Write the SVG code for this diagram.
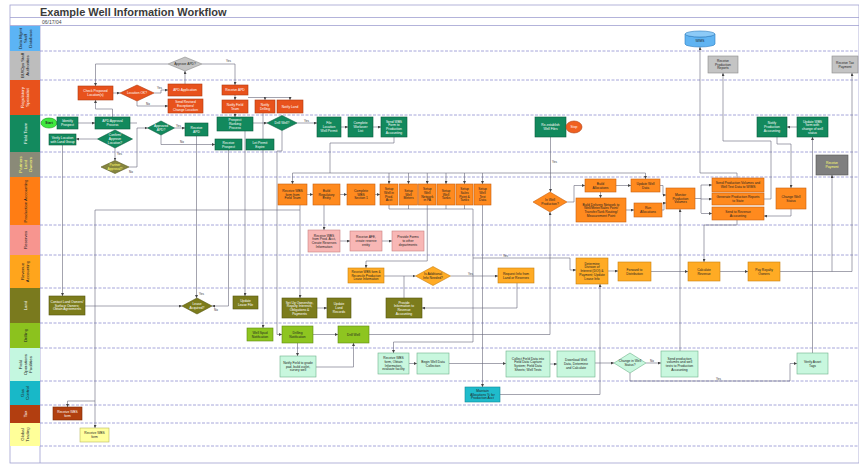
<svg xmlns="http://www.w3.org/2000/svg" width="859" height="464" viewBox="0 0 859 464">
<style>
.t{font-family:"Liberation Sans",Arial,sans-serif;font-size:3.3px;text-anchor:middle}
.lt{font-family:"Liberation Sans",Arial,sans-serif;font-size:4.3px;text-anchor:middle}
.lb{font-family:"Liberation Sans",Arial,sans-serif;font-size:3px;fill:#333}
.w{fill:#fff}.d{fill:#222}.y{fill:#ffff70}
.c{fill:none;stroke:#676778;stroke-width:0.6}
.ca{fill:none;stroke:#676778;stroke-width:0.6;marker-end:url(#a)}
.sep{stroke:#8f8fd0;stroke-width:0.8;stroke-dasharray:3 1.5}
.reg{fill:#e8521c;stroke:#b03a10;stroke-width:0.6}
.gry{fill:#c4c4c4;stroke:#8a8a8a;stroke-width:0.6}
.fld{fill:#12895d;stroke:#0a5c3e;stroke-width:0.6}
.prd{fill:#ff8a1e;stroke:#c86010;stroke-width:0.6}
.pnk{fill:#f8b7b5;stroke:#c88080;stroke-width:0.6}
.rev{fill:#ffab24;stroke:#c88010;stroke-width:0.6}
.lnd{fill:#7c7c1c;stroke:#55550e;stroke-width:0.6}
.drl{fill:#8ec520;stroke:#5f8a10;stroke-width:0.6}
.ops{fill:#c8f7de;stroke:#6fb28a;stroke-width:0.6}
.gas{fill:#1fbccc;stroke:#118896;stroke-width:0.6}
.tax{fill:#b1400f;stroke:#7a2a08;stroke-width:0.6}
.glb{fill:#ffff9e;stroke:#b8b860;stroke-width:0.6}
.prt{fill:#7f7f7f;stroke:#555;stroke-width:0.6}
.pol{fill:#86863e;stroke:#5a5a20;stroke-width:0.6}
</style>
<defs>
<marker id="a" viewBox="0 0 6 6" refX="6" refY="3" markerWidth="3" markerHeight="3" orient="auto" markerUnits="userSpaceOnUse"><path d="M0,0 L6,3 L0,6 z" fill="#444"/></marker>
</defs>
<rect x="0" y="0" width="859" height="464" fill="#fff"/>
<g id="frame">
<rect x="10" y="5" width="849" height="458" fill="none" stroke="#a0a0d0" stroke-width="0.8"/>
<line x1="10" y1="17.5" x2="859" y2="17.5" stroke="#a0a0d0" stroke-width="0.8"/>
<line x1="10" y1="25.5" x2="859" y2="25.5" stroke="#a0a0d0" stroke-width="0.8"/>
<text x="40" y="15.5" font-family="Liberation Sans, Arial, sans-serif" font-size="11" font-weight="bold" fill="#3a3a3a">Example Well Information Workflow</text>
<text x="42" y="23.5" font-family="Liberation Sans, Arial, sans-serif" font-size="5" fill="#444">06/17/04</text>
<line x1="40" y1="26" x2="40" y2="463" stroke="#a0a0d0" stroke-width="0.8"/>
</g>
<g id="lanes">
<rect x="10" y="26" width="30" height="25" fill="#5cb4f5"/>
<rect x="10" y="51" width="30" height="29" fill="#bdbdbd"/>
<rect x="10" y="80" width="30" height="35" fill="#e8521c"/>
<rect x="10" y="115" width="30" height="37" fill="#138a5e"/>
<rect x="10" y="152" width="30" height="25" fill="#8a8a78"/>
<rect x="10" y="177" width="30" height="48" fill="#ff7d14"/>
<rect x="10" y="225" width="30" height="30" fill="#f7958f"/>
<rect x="10" y="255" width="30" height="33" fill="#ffa51c"/>
<rect x="10" y="288" width="30" height="35" fill="#7a7a1e"/>
<rect x="10" y="323" width="30" height="25" fill="#8cc21e"/>
<rect x="10" y="348" width="30" height="33" fill="#c4f7e0"/>
<rect x="10" y="381" width="30" height="24" fill="#18b8c8"/>
<rect x="10" y="405" width="30" height="18" fill="#b23e10"/>
<rect x="10" y="423" width="30" height="23" fill="#ffff99"/>
<text class="lt d" transform="translate(25,38.5) rotate(-90)"><tspan x="0" y="-3.4">Data Mgmt</tspan><tspan x="0" y="1.6">Staff</tspan><tspan x="0" y="6.6">Database</tspan></text>
<text class="lt d" transform="translate(25,65.5) rotate(-90)"><tspan x="0" y="-0.9">BU/Ops Staff</tspan><tspan x="0" y="4.1">Authorities</tspan></text>
<text class="lt w" transform="translate(25,97.5) rotate(-90)"><tspan x="0" y="-0.9">Regulatory</tspan><tspan x="0" y="4.1">Specialist</tspan></text>
<text class="lt w" transform="translate(25,133.5) rotate(-90)"><tspan x="0" y="1.6">Field Team</tspan></text>
<text class="lt y" transform="translate(25,164.5) rotate(-90)"><tspan x="0" y="-3.4">Partners</tspan><tspan x="0" y="1.6">Land</tspan><tspan x="0" y="6.6">Owners</tspan></text>
<text class="lt d" transform="translate(25,201) rotate(-90)"><tspan x="0" y="1.6">Production Accounting</tspan></text>
<text class="lt d" transform="translate(25,240) rotate(-90)"><tspan x="0" y="1.6">Reserves</tspan></text>
<text class="lt d" transform="translate(25,271.5) rotate(-90)"><tspan x="0" y="-0.9">Revenue</tspan><tspan x="0" y="4.1">Accounting</tspan></text>
<text class="lt w" transform="translate(25,305.5) rotate(-90)"><tspan x="0" y="1.6">Land</tspan></text>
<text class="lt d" transform="translate(25,335.5) rotate(-90)"><tspan x="0" y="1.6">Drilling</tspan></text>
<text class="lt d" transform="translate(25,364.5) rotate(-90)"><tspan x="0" y="-3.4">Field</tspan><tspan x="0" y="1.6">Operations</tspan><tspan x="0" y="6.6">Facilities</tspan></text>
<text class="lt d" transform="translate(25,393) rotate(-90)"><tspan x="0" y="-0.9">Gas</tspan><tspan x="0" y="4.1">Control</tspan></text>
<text class="lt w" transform="translate(25,414) rotate(-90)"><tspan x="0" y="1.6">Tax</tspan></text>
<text class="lt d" transform="translate(25,434.5) rotate(-90)"><tspan x="0" y="-0.9">Global</tspan><tspan x="0" y="4.1">Trading</tspan></text>
<line class="sep" x1="40" y1="51" x2="859" y2="51"/>
<line class="sep" x1="40" y1="80" x2="859" y2="80"/>
<line class="sep" x1="40" y1="115" x2="859" y2="115"/>
<line class="sep" x1="40" y1="152" x2="859" y2="152"/>
<line class="sep" x1="40" y1="177" x2="859" y2="177"/>
<line class="sep" x1="40" y1="225" x2="859" y2="225"/>
<line class="sep" x1="40" y1="255" x2="859" y2="255"/>
<line class="sep" x1="40" y1="288" x2="859" y2="288"/>
<line class="sep" x1="40" y1="323" x2="859" y2="323"/>
<line class="sep" x1="40" y1="348" x2="859" y2="348"/>
<line class="sep" x1="40" y1="381" x2="859" y2="381"/>
<line class="sep" x1="40" y1="405" x2="859" y2="405"/>
<line class="sep" x1="40" y1="423" x2="859" y2="423"/>
<line class="sep" x1="40" y1="446" x2="859" y2="446"/>
</g>
<g id="connectors">
<path class="ca" d="M168,64 H95.5 V86"/>
<path class="ca" d="M202,64 H235 V85"/>
<path class="ca" d="M185,84 V71"/>
<path class="ca" d="M113,93 H120"/>
<path class="ca" d="M154,93 H161 V90 H168"/>
<path class="ca" d="M137,101 V106 H168"/>
<path class="ca" d="M112.5,117 V109 H95.5 V100"/>
<path class="ca" d="M235,95 V100"/>
<path class="ca" d="M248,97.5 H265 V100"/>
<path class="ca" d="M265,97.5 H290 V100"/>
<path class="ca" d="M57,123 H57.5"/>
<path class="ca" d="M78,123 H95"/>
<path class="ca" d="M97.5,139 H76"/>
<path class="ca" d="M62.5,145 V296"/>
<path class="ca" d="M115,148 V160.5"/>
<path class="ca" d="M129,167 H137 V128 H147.5"/>
<path class="c" d="M130,123 H137"/>
<path class="ca" d="M174.5,128 H185"/>
<path class="ca" d="M161,135 V144.5 H215"/>
<path class="ca" d="M196.5,136 V298"/>
<path class="ca" d="M85,306 H182"/>
<path class="ca" d="M228.5,150 V306 H212"/>
<path class="ca" d="M253,123 H267"/>
<path class="ca" d="M235,113 V117"/>
<path class="ca" d="M297,123 H317"/>
<path class="ca" d="M245,131 V296"/>
<path class="ca" d="M263,113 V328"/>
<path class="ca" d="M282,130.5 V151 H277 V334.5 H282"/>
<path class="ca" d="M341,127 H348"/>
<path class="ca" d="M373,127 H381"/>
<path class="c" d="M394,137 V143 H330 V173"/>
<path class="c" d="M292.5,173 H645.5"/>
<path class="ca" d="M292.5,173 V184"/>
<path class="ca" d="M389,173 V184"/>
<path class="ca" d="M408.5,173 V184"/>
<path class="ca" d="M427.25,173 V184"/>
<path class="ca" d="M446,173 V184"/>
<path class="ca" d="M464.5,173 V184"/>
<path class="ca" d="M482.5,173 V184"/>
<path class="ca" d="M645.5,173 V179"/>
<path class="ca" d="M307,194.5 H313"/>
<path class="ca" d="M340,194.5 H347"/>
<path class="ca" d="M375,194.5 H380"/>
<path class="c" d="M389,205 V209 H473 M408.5,205 V209 M427.25,205 V209 M446,205 V209 M464.5,205 V209"/>
<path class="ca" d="M427.25,209 V261 H366 V268"/>
<path class="ca" d="M324,205 V230"/>
<path class="ca" d="M340,241 H350"/>
<path class="ca" d="M382,241 H392"/>
<path class="ca" d="M300,205 V298"/>
<path class="ca" d="M300,210 H95 V428"/>
<path class="ca" d="M95,401 H67.5 V407"/>
<path class="ca" d="M482.5,205 V387"/>
<path class="ca" d="M473,209 V342 H393.5 V353"/>
<path class="ca" d="M473,258 H570 V270 H576"/>
<path class="ca" d="M384,276 H415.5"/>
<path class="ca" d="M450.5,276 H498"/>
<path class="c" d="M404,298 V276"/>
<path class="ca" d="M517,283 V308 H422"/>
<path class="ca" d="M317,308 H327"/>
<path class="ca" d="M313,334.5 H338"/>
<path class="ca" d="M297.5,343 V356"/>
<path class="ca" d="M316,367 H353.5 V343"/>
<path class="ca" d="M369,334.5 H550 V212"/>
<path class="ca" d="M550.5,137 V192"/>
<path class="ca" d="M409,363.5 H417"/>
<path class="ca" d="M449,363.5 H506"/>
<path class="ca" d="M550,364 H557"/>
<path class="ca" d="M595,363 H614"/>
<path class="ca" d="M646,363 H661"/>
<path class="ca" d="M630,373 V381 H790 V363.5 H797"/>
<path class="ca" d="M500,394.5 H600 V284"/>
<path class="ca" d="M680,351 V209"/>
<path class="ca" d="M812.5,353 V137"/>
<path class="ca" d="M567,202 H574 V185.5 H585"/>
<path class="ca" d="M616,185.5 H631"/>
<path class="ca" d="M600.5,192 V198"/>
<path class="ca" d="M626,210 H634"/>
<path class="ca" d="M660,185.5 H663 V195 H666"/>
<path class="ca" d="M662,210 H664 V203 H666"/>
<path class="c" d="M695,198.5 H701 M701,185 V213"/>
<path class="ca" d="M701,185 H712"/>
<path class="ca" d="M701,199 H712"/>
<path class="ca" d="M701,213.5 H712"/>
<path class="ca" d="M737,178 V173 H700 V47"/>
<path class="ca" d="M764,199 H771 V141 H723 V73"/>
<path class="ca" d="M777,137 V144 H791 V188"/>
<path class="ca" d="M791,209 V216 H764"/>
<path class="ca" d="M797,127 H787"/>
<path class="ca" d="M737,220 V225 H704 V262"/>
<path class="ca" d="M608,271 H618"/>
<path class="ca" d="M651,271.5 H688"/>
<path class="ca" d="M720,271.5 H748"/>
<path class="ca" d="M780,271.5 H852 V73"/>
<path class="ca" d="M832,271.5 V175"/>
<text class="lb" x="226" y="62">Yes</text>
<text class="lb" x="157" y="88.5">Yes</text>
<text class="lb" x="146" y="105">No</text>
<text class="lb" x="117" y="155">Yes</text>
<text class="lb" x="129" y="173">No</text>
<text class="lb" x="176" y="126.5">Yes</text>
<text class="lb" x="180" y="143">No</text>
<text class="lb" x="199" y="295">Yes</text>
<text class="lb" x="214" y="311">No</text>
<text class="lb" x="304" y="121.5">Yes</text>
<text class="lb" x="552" y="163">Yes</text>
<text class="lb" x="468" y="274.5">Yes</text>
<text class="lb" x="503" y="256.5">Yes</text>
<text class="lb" x="650" y="361.5">No</text>
<text class="lb" x="716" y="380">Yes</text>
</g>
<g id="n-db"><path d="M685,34 A15,3 0 0,0 715,34 V44 A15,3 0 0,1 685,44 Z" fill="#60b4f2" stroke="#2c7cc0" stroke-width="0.6"/><ellipse cx="700" cy="34" rx="15" ry="3" fill="#8ccaf7" stroke="#2c7cc0" stroke-width="0.6"/><text class="t d" x="700" y="42">WIMS</text></g>
<g id="n-recprodrep"><rect class="gry" x="708" y="56" width="30" height="17"/><text class="t d"><tspan x="723" y="61.95">Receive</tspan><tspan x="723" y="65.65">Production</tspan><tspan x="723" y="69.35">Reports</tspan></text></g>
<g id="n-rectax"><rect class="gry" x="832" y="56" width="26" height="17"/><text class="t d"><tspan x="845" y="63.8">Receive Tax</tspan><tspan x="845" y="67.5">Payment</tspan></text></g>
<g id="n-approveapd"><polygon class="gry" points="168,64 185,57 202,64 185,71"/><text class="t d" x="185" y="65.15">Approve APD?</text></g>
<g id="n-check"><rect class="reg" x="78" y="86" width="35" height="14"/><text class="t w"><tspan x="95.5" y="92.3">Check Proposed</tspan><tspan x="95.5" y="96">Location(s)</tspan></text></g>
<g id="n-locok"><polygon class="reg" points="120,93 137,85 154,93 137,101"/><text class="t w" x="137" y="94.15">Location OK?</text></g>
<g id="n-apdapp"><rect class="reg" x="168" y="84" width="34" height="12"/><text class="t w" x="185" y="91.15">APD Application</text></g>
<g id="n-sendrev"><rect class="reg" x="168" y="99" width="35" height="14"/><text class="t w"><tspan x="185.5" y="103.45">Send Revised</tspan><tspan x="185.5" y="107.15">Exceptions/</tspan><tspan x="185.5" y="110.85">Change Location</tspan></text></g>
<g id="n-recapd"><rect class="reg" x="222" y="85" width="26" height="10"/><text class="t w" x="235" y="91.15">Receive APD</text></g>
<g id="n-notfield"><rect class="reg" x="222" y="100" width="26" height="13"/><text class="t w"><tspan x="235" y="105.8">Notify Field</tspan><tspan x="235" y="109.5">Team</tspan></text></g>
<g id="n-notdrill"><rect class="reg" x="255" y="100" width="20" height="13"/><text class="t w"><tspan x="265" y="105.8">Notify</tspan><tspan x="265" y="109.5">Drilling</tspan></text></g>
<g id="n-notland"><rect class="reg" x="277" y="100" width="26" height="13"/><text class="t w" x="290" y="107.65">Notify Land</text></g>
<g id="n-start"><ellipse cx="49" cy="123" rx="8" ry="5" fill="#3ee83e" stroke="#1a9a1a" stroke-width="0.6"/><text class="t d" x="49" y="124.3" font-weight="bold">Start</text></g>
<g id="n-identify"><rect class="fld" x="57" y="117" width="21" height="12"/><text class="t w"><tspan x="67.5" y="122.3">Identify</tspan><tspan x="67.5" y="126">Prospect</tspan></text></g>
<g id="n-verify"><rect class="fld" x="49" y="134" width="27" height="11"/><text class="t w"><tspan x="62.5" y="138.8">Verify Location</tspan><tspan x="62.5" y="142.5">with Land Group</tspan></text></g>
<g id="n-apdproc"><rect class="fld" x="95" y="117" width="35" height="12"/><text class="t w"><tspan x="112.5" y="122.3">APD Approval</tspan><tspan x="112.5" y="126">Process</tspan></text></g>
<g id="n-confirm"><polygon class="fld" points="97.5,139 115,130 132.5,139 115,148"/><text class="t w"><tspan x="115" y="136.45">Confirm/</tspan><tspan x="115" y="140.15">Approve</tspan><tspan x="115" y="143.85">Location?</tspan></text></g>
<g id="n-approved"><polygon class="fld" points="147.5,128 161,121 174.5,128 161,135"/><text class="t w"><tspan x="161" y="127.3">Approved</tspan><tspan x="161" y="131">APD?</tspan></text></g>
<g id="n-recapd2"><rect class="fld" x="185" y="123" width="23" height="13"/><text class="t w"><tspan x="196.5" y="128.8">Receive</tspan><tspan x="196.5" y="132.5">APD</tspan></text></g>
<g id="n-recprosp"><rect class="fld" x="215" y="139" width="27" height="11"/><text class="t w"><tspan x="228.5" y="143.8">Receive</tspan><tspan x="228.5" y="147.5">Prospect</tspan></text></g>
<g id="n-ranking"><rect class="fld" x="217" y="117" width="36" height="14"/><text class="t w"><tspan x="235" y="121.45">Prospect</tspan><tspan x="235" y="125.15">Ranking</tspan><tspan x="235" y="128.85">Process</tspan></text></g>
<g id="n-letexpire"><rect class="fld" x="246" y="139" width="28" height="11"/><text class="t w"><tspan x="260" y="143.8">Let Permit</tspan><tspan x="260" y="147.5">Expire</tspan></text></g>
<g id="n-drillq"><polygon class="fld" points="267,123 282,115.5 297,123 282,130.5"/><text class="t w" x="282" y="124.15">Drill Well?</text></g>
<g id="n-fileloc"><rect class="fld" x="317" y="117" width="24" height="20"/><text class="t w"><tspan x="329" y="124.45">File</tspan><tspan x="329" y="128.15">Location</tspan><tspan x="329" y="131.85">Well Permit</tspan></text></g>
<g id="n-workover"><rect class="fld" x="348" y="117" width="25" height="20"/><text class="t w"><tspan x="360.5" y="124.45">Complete</tspan><tspan x="360.5" y="128.15">Workover</tspan><tspan x="360.5" y="131.85">List</tspan></text></g>
<g id="n-sendwbs"><rect class="fld" x="381" y="117" width="26" height="20"/><text class="t w"><tspan x="394" y="122.6">Send WBS</tspan><tspan x="394" y="126.3">Form to</tspan><tspan x="394" y="130">Production</tspan><tspan x="394" y="133.7">Accounting</tspan></text></g>
<g id="n-reest"><rect class="fld" x="535" y="117" width="31" height="20"/><text class="t w"><tspan x="550.5" y="126.3">Re-establish</tspan><tspan x="550.5" y="130">Well Files</tspan></text></g>
<g id="n-stop"><ellipse cx="574" cy="127" rx="8" ry="6" fill="#f06020" stroke="#b04010" stroke-width="0.6"/><text class="t w" x="574" y="128.15">Stop</text></g>
<g id="n-notpa"><rect class="fld" x="757" y="117" width="30" height="20"/><text class="t w"><tspan x="772" y="124.45">Notify</tspan><tspan x="772" y="128.15">Production</tspan><tspan x="772" y="131.85">Accounting</tspan></text></g>
<g id="n-updwbs"><rect class="fld" x="797" y="117" width="31" height="20"/><text class="t w"><tspan x="812.5" y="122.6">Update WBS</tspan><tspan x="812.5" y="126.3">form with</tspan><tspan x="812.5" y="130">change of well</tspan><tspan x="812.5" y="133.7">status</tspan></text></g>
<g id="n-partner"><polygon class="pol" points="101,167 115,160.5 129,167 115,173.5"/><text class="t y"><tspan x="115" y="166.3">Partner</tspan><tspan x="115" y="170">Approval?</tspan></text></g>
<g id="n-recpay"><rect class="prt" x="816" y="155" width="32" height="20"/><text class="t y"><tspan x="832" y="164.3">Receive</tspan><tspan x="832" y="168">Payment</tspan></text></g>
<g id="n-recwbs"><rect class="prd" x="278" y="184" width="29" height="21"/><text class="t d"><tspan x="292.5" y="191.95">Receive WBS</tspan><tspan x="292.5" y="195.65">form from</tspan><tspan x="292.5" y="199.35">Field Team</tspan></text></g>
<g id="n-buildreg"><rect class="prd" x="313" y="184" width="27" height="21"/><text class="t d"><tspan x="326.5" y="191.95">Build</tspan><tspan x="326.5" y="195.65">Regulatory</tspan><tspan x="326.5" y="199.35">Entity</tspan></text></g>
<g id="n-complete1"><rect class="prd" x="347" y="184" width="28" height="21"/><text class="t d"><tspan x="361" y="191.95">Complete</tspan><tspan x="361" y="195.65">WBS</tspan><tspan x="361" y="199.35">Section 1</tspan></text></g>
<g id="n-setup1"><rect class="prd" x="380" y="184" width="18" height="21"/><text class="t d"><tspan x="389" y="190.1">Setup</tspan><tspan x="389" y="193.8">Well in</tspan><tspan x="389" y="197.5">Prod.</tspan><tspan x="389" y="201.2">Acct</tspan></text></g>
<g id="n-setup2"><rect class="prd" x="399.5" y="184" width="18" height="21"/><text class="t d"><tspan x="408.5" y="191.95">Setup</tspan><tspan x="408.5" y="195.65">Well</tspan><tspan x="408.5" y="199.35">Meters</tspan></text></g>
<g id="n-setup3"><rect class="prd" x="418.5" y="184" width="17.5" height="21"/><text class="t d"><tspan x="427.25" y="190.1">Setup</tspan><tspan x="427.25" y="193.8">Well</tspan><tspan x="427.25" y="197.5">Network</tspan><tspan x="427.25" y="201.2">in PA</tspan></text></g>
<g id="n-setup4"><rect class="prd" x="437" y="184" width="18" height="21"/><text class="t d"><tspan x="446" y="191.95">Setup</tspan><tspan x="446" y="195.65">Well</tspan><tspan x="446" y="199.35">Tanks</tspan></text></g>
<g id="n-setup5"><rect class="prd" x="456" y="184" width="17" height="21"/><text class="t d"><tspan x="464.5" y="190.1">Setup</tspan><tspan x="464.5" y="193.8">Sales</tspan><tspan x="464.5" y="197.5">Point &amp;</tspan><tspan x="464.5" y="201.2">Tanks</tspan></text></g>
<g id="n-setup6"><rect class="prd" x="474" y="184" width="17" height="21"/><text class="t d"><tspan x="482.5" y="190.1">Setup</tspan><tspan x="482.5" y="193.8">Well</tspan><tspan x="482.5" y="197.5">Test</tspan><tspan x="482.5" y="201.2">Data</tspan></text></g>
<g id="n-inprod"><polygon class="prd" points="533,202 550,192 567,202 550,212"/><text class="t d"><tspan x="550" y="201.3">In Well</tspan><tspan x="550" y="205">Production?</tspan></text></g>
<g id="n-buildalloc"><rect class="prd" x="585" y="179" width="31" height="13"/><text class="t d"><tspan x="600.5" y="184.8">Build</tspan><tspan x="600.5" y="188.5">Allocations</tspan></text></g>
<g id="n-updwell"><rect class="prd" x="631" y="179" width="29" height="13"/><text class="t d"><tspan x="645.5" y="184.8">Update Well</tspan><tspan x="645.5" y="188.5">Data</tspan></text></g>
<g id="n-builddel"><rect class="prd" x="576" y="198" width="50" height="24"/><text class="t d"><tspan x="601" y="205.6">Build Delivery Network to</tspan><tspan x="601" y="209.3">Well/Meter/Sales Point/</tspan><tspan x="601" y="213">Transfer/Tank Routing/</tspan><tspan x="601" y="216.7">Measurement Point</tspan></text></g>
<g id="n-runalloc"><rect class="prd" x="634" y="203" width="28" height="14"/><text class="t d"><tspan x="648" y="209.3">Run</tspan><tspan x="648" y="213">Allocations</tspan></text></g>
<g id="n-monitor"><rect class="prd" x="666" y="188" width="29" height="21"/><text class="t d"><tspan x="680.5" y="195.95">Monitor</tspan><tspan x="680.5" y="199.65">Production</tspan><tspan x="680.5" y="203.35">Volumes</tspan></text></g>
<g id="n-sendvol"><rect class="prd" x="712" y="178" width="52" height="14"/><text class="t d"><tspan x="738" y="184.3">Send Production Volumes and</tspan><tspan x="738" y="188">Well Test Data to WIMS</tspan></text></g>
<g id="n-genrep"><rect class="prd" x="712" y="193" width="52" height="12"/><text class="t d"><tspan x="738" y="198.3">Generate Production Reports</tspan><tspan x="738" y="202">to State</tspan></text></g>
<g id="n-sendrev2"><rect class="prd" x="712" y="207" width="52" height="13"/><text class="t d"><tspan x="738" y="212.8">Send to Revenue</tspan><tspan x="738" y="216.5">Accounting</tspan></text></g>
<g id="n-chgstatus"><rect class="prd" x="776" y="188" width="30" height="21"/><text class="t d"><tspan x="791" y="197.8">Change Well</tspan><tspan x="791" y="201.5">Status</tspan></text></g>
<g id="n-res1"><rect class="pnk" x="308" y="230" width="32" height="22"/><text class="t d"><tspan x="324" y="236.6">Receive WBS</tspan><tspan x="324" y="240.3">from Prod. Acct,</tspan><tspan x="324" y="244">Create Reserves</tspan><tspan x="324" y="247.7">Information</tspan></text></g>
<g id="n-res2"><rect class="pnk" x="350" y="231" width="32" height="20"/><text class="t d"><tspan x="366" y="238.45">Receive AFE,</tspan><tspan x="366" y="242.15">create reserve</tspan><tspan x="366" y="245.85">entity</tspan></text></g>
<g id="n-res3"><rect class="pnk" x="392" y="231" width="32" height="20"/><text class="t d"><tspan x="408" y="238.45">Provide Forms</tspan><tspan x="408" y="242.15">to other</tspan><tspan x="408" y="245.85">departments</tspan></text></g>
<g id="n-rev1"><rect class="rev" x="348" y="268" width="36" height="15"/><text class="t d" style="font-size:3.1px"><tspan x="366" y="272.95">Receive WBS form &amp;</tspan><tspan x="366" y="276.65">Reconcile Production</tspan><tspan x="366" y="280.35">Lease Information</tspan></text></g>
<g id="n-addinfo"><polygon class="rev" points="415.5,276 433,266.5 450.5,276 433,285.5"/><text class="t d"><tspan x="433" y="275.3">Is Additional</tspan><tspan x="433" y="279">Info Needed?</tspan></text></g>
<g id="n-reqinfo"><rect class="rev" x="498" y="268" width="36" height="15"/><text class="t d"><tspan x="516" y="274.8">Request Info from</tspan><tspan x="516" y="278.5">Land or Reserves</tspan></text></g>
<g id="n-doi"><rect class="rev" x="576" y="258" width="32" height="26"/><text class="t d"><tspan x="592" y="264.75">Determine</tspan><tspan x="592" y="268.45">Division of</tspan><tspan x="592" y="272.15">Interest (DOI) &amp;</tspan><tspan x="592" y="275.85">Payment; Update</tspan><tspan x="592" y="279.55">Lease Info</tspan></text></g>
<g id="n-forward"><rect class="rev" x="618" y="262" width="33" height="19"/><text class="t d"><tspan x="634.5" y="270.8">Forward to</tspan><tspan x="634.5" y="274.5">Distribution</tspan></text></g>
<g id="n-calc"><rect class="rev" x="688" y="262" width="32" height="19"/><text class="t d"><tspan x="704" y="270.8">Calculate</tspan><tspan x="704" y="274.5">Revenue</tspan></text></g>
<g id="n-pay"><rect class="rev" x="748" y="262" width="32" height="19"/><text class="t d"><tspan x="764" y="270.8">Pay Royalty</tspan><tspan x="764" y="274.5">Owners</tspan></text></g>
<g id="n-contact"><rect class="lnd" x="49" y="296" width="36" height="19"/><text class="t w"><tspan x="67" y="302.95">Contact Land Owners/</tspan><tspan x="67" y="306.65">Surface Owners;</tspan><tspan x="67" y="310.35">Obtain Agreements</tspan></text></g>
<g id="n-lease"><polygon class="lnd" points="182,306 197,298 212,306 197,314"/><text class="t w"><tspan x="197" y="305.3">Lease</tspan><tspan x="197" y="309">Acquired?</tspan></text></g>
<g id="n-updlease"><rect class="lnd" x="233" y="296" width="25" height="13"/><text class="t w"><tspan x="245.5" y="301.8">Update</tspan><tspan x="245.5" y="305.5">Lease File</tspan></text></g>
<g id="n-setown"><rect class="lnd" x="282" y="298" width="35" height="20"/><text class="t w"><tspan x="299.5" y="303.6">Set Up Ownership,</tspan><tspan x="299.5" y="307.3">Royalty Interests,</tspan><tspan x="299.5" y="311">Obligations &amp;</tspan><tspan x="299.5" y="314.7">Payments</tspan></text></g>
<g id="n-updland"><rect class="lnd" x="327" y="298" width="24" height="20"/><text class="t w"><tspan x="339" y="305.45">Update</tspan><tspan x="339" y="309.15">Land</tspan><tspan x="339" y="312.85">Records</tspan></text></g>
<g id="n-provinfo"><rect class="lnd" x="386" y="298" width="36" height="20"/><text class="t w"><tspan x="404" y="303.6">Provide</tspan><tspan x="404" y="307.3">Information to</tspan><tspan x="404" y="311">Revenue</tspan><tspan x="404" y="314.7">Accounting</tspan></text></g>
<g id="n-spud"><rect class="drl" x="247" y="328" width="26" height="13"/><text class="t d"><tspan x="260" y="333.8">Well Spud</tspan><tspan x="260" y="337.5">Notification</tspan></text></g>
<g id="n-drillnot"><rect class="drl" x="282" y="326" width="31" height="17"/><text class="t d"><tspan x="297.5" y="333.8">Drilling</tspan><tspan x="297.5" y="337.5">Notification</tspan></text></g>
<g id="n-drillwell"><rect class="drl" x="338" y="326" width="31" height="17"/><text class="t d" x="353.5" y="335.65">Drill Well</text></g>
<g id="n-notifyfield"><rect class="ops" x="280" y="356" width="36" height="21"/><text class="t d"><tspan x="298" y="363.95">Notify Field to grade</tspan><tspan x="298" y="367.65">pad, build outlet,</tspan><tspan x="298" y="371.35">survey well</tspan></text></g>
<g id="n-opsrecwbs"><rect class="ops" x="378" y="353" width="31" height="21"/><text class="t d"><tspan x="393.5" y="359.1">Receive WBS</tspan><tspan x="393.5" y="362.8">form, Obtain</tspan><tspan x="393.5" y="366.5">Information,</tspan><tspan x="393.5" y="370.2">evaluate facility</tspan></text></g>
<g id="n-begin"><rect class="ops" x="417" y="353" width="32" height="21"/><text class="t d"><tspan x="433" y="362.8">Begin Well Data</tspan><tspan x="433" y="366.5">Collection</tspan></text></g>
<g id="n-collect"><rect class="ops" x="506" y="351" width="44" height="26"/><text class="t d"><tspan x="528" y="359.6">Collect Field Data into</tspan><tspan x="528" y="363.3">Field Data Capture</tspan><tspan x="528" y="367">System; Field Data</tspan><tspan x="528" y="370.7">Sheets; Well Tests</tspan></text></g>
<g id="n-download"><rect class="ops" x="557" y="351" width="38" height="26"/><text class="t d"><tspan x="576" y="361.45">Download Well</tspan><tspan x="576" y="365.15">Data, Determine</tspan><tspan x="576" y="368.85">and Calculate</tspan></text></g>
<g id="n-chgq"><polygon class="ops" points="614,363 630,353 646,363 630,373"/><text class="t d"><tspan x="630" y="362.3">Change in Well</tspan><tspan x="630" y="366">Status?</tspan></text></g>
<g id="n-sendprod"><rect class="ops" x="661" y="351" width="37" height="26"/><text class="t d"><tspan x="679.5" y="359.6">Send production</tspan><tspan x="679.5" y="363.3">volumes and well</tspan><tspan x="679.5" y="367">tests to Production</tspan><tspan x="679.5" y="370.7">Accounting</tspan></text></g>
<g id="n-verifytags"><rect class="ops" x="797" y="353" width="31" height="21"/><text class="t d"><tspan x="812.5" y="362.8">Verify Asset</tspan><tspan x="812.5" y="366.5">Tags</tspan></text></g>
<g id="n-gas"><rect class="gas" x="465" y="387" width="35" height="15"/><text class="t d"><tspan x="482.5" y="391.95">Maintain</tspan><tspan x="482.5" y="395.65">Allocations % for</tspan><tspan x="482.5" y="399.35">Production Acct</tspan></text></g>
<g id="n-tax"><rect class="tax" x="53" y="407" width="29" height="13"/><text class="t w"><tspan x="67.5" y="412.8">Receive WBS</tspan><tspan x="67.5" y="416.5">form</tspan></text></g>
<g id="n-global"><rect class="glb" x="80" y="428" width="29" height="14"/><text class="t d"><tspan x="94.5" y="434.3">Receive WBS</tspan><tspan x="94.5" y="438">form</tspan></text></g>
</svg>
